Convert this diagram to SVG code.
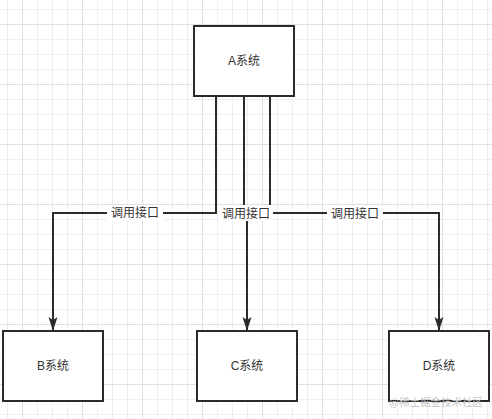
<svg xmlns="http://www.w3.org/2000/svg" width="492" height="419" viewBox="0 0 492 419">
  <style>
    .box { fill: #ffffff; stroke: #2b2b2b; stroke-width: 2; }
    .lbl { font-family: "Liberation Sans", "Noto Sans CJK SC", sans-serif; font-size: 12px; fill: #333333; text-anchor: middle; dominant-baseline: central; }
    .edge { fill: none; stroke: #2b2b2b; stroke-width: 2; }
    .bg { fill: #ffffff; }
    .wm { font-family: "Noto Sans CJK SC", sans-serif; font-size: 10.5px; fill: #c4c4c4; }
  </style>
  <defs>
    <pattern id="grid" x="7" y="9" width="60" height="60" patternUnits="userSpaceOnUse">
      <path d="M0.5,0 V60 M30.5,0 V60 M45.5,0 V60 M0,0.5 H60 M0,30.5 H60 M0,45.5 H60" stroke="#efefef" stroke-width="1" fill="none"/>
      <path d="M15.5,0 V60 M0,15.5 H60" stroke="#e0e0e0" stroke-width="1" fill="none"/>
    </pattern>
    <marker id="arrow" markerUnits="userSpaceOnUse" viewBox="0 0 14 10" markerWidth="14" markerHeight="10" refX="14" refY="5" orient="auto">
      <path d="M0,0.5 L14,5 L0,9.5 L3,5 Z" fill="#2b2b2b"/>
    </marker>
  </defs>
  <rect x="0" y="0" width="492" height="419" fill="#ffffff"/>
  <rect x="0" y="0" width="492" height="419" fill="url(#grid)"/>

  <g id="connectors">
    <path class="edge" d="M216,96 V213 H53 V331" marker-end="url(#arrow)"/>
    <path class="edge" d="M244,96 V213 H247 V331" marker-end="url(#arrow)"/>
    <path class="edge" d="M270,96 V213 H439 V331" marker-end="url(#arrow)"/>
    <rect class="bg" x="107" y="205" width="56" height="16"/>
    <text class="lbl" x="135" y="213">调用接口</text>
    <rect class="bg" x="219" y="205" width="54" height="16"/>
    <text class="lbl" x="246" y="214">调用接口</text>
    <rect class="bg" x="327" y="205" width="56" height="16"/>
    <text class="lbl" x="355" y="214">调用接口</text>
  </g>

  <g id="nodeA">
    <rect class="box" x="194" y="26" width="100" height="70"/>
    <text class="lbl" x="244" y="61">A系统</text>
  </g>
  <g id="nodeB">
    <rect class="box" x="3" y="331" width="100" height="70"/>
    <text class="lbl" x="53" y="366">B系统</text>
  </g>
  <g id="nodeC">
    <rect class="box" x="197" y="331" width="100" height="70"/>
    <text class="lbl" x="247" y="366">C系统</text>
  </g>
  <g id="nodeD">
    <rect class="box" x="389" y="331" width="100" height="70"/>
    <text class="lbl" x="439" y="366">D系统</text>
  </g>

  <text class="wm" x="389" y="406">@稀土掘金技术社区</text>
</svg>
